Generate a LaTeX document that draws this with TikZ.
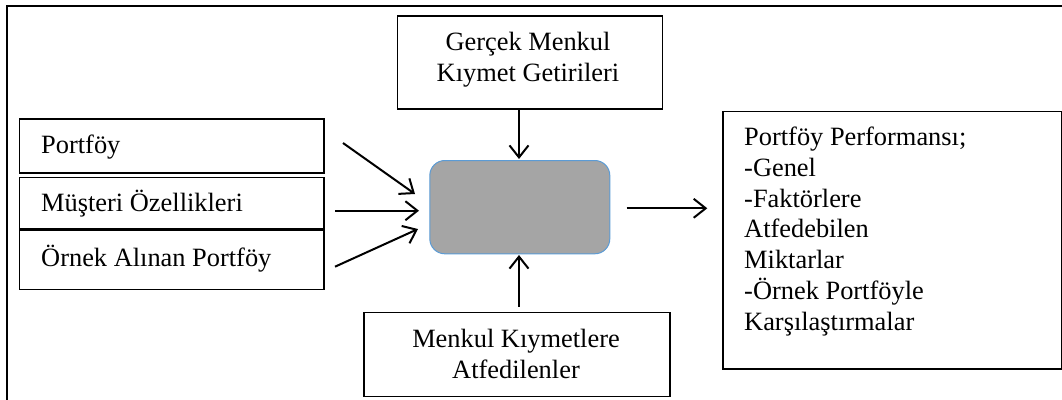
\documentclass[tikz,border=0pt]{standalone}
\usepackage{fontspec}
\setmainfont{Liberation Serif}
\usetikzlibrary{arrows.meta}
\definecolor{boxgray}{HTML}{A5A5A5}
\definecolor{boxblue}{HTML}{5B9BD5}
\begin{document}
\begin{tikzpicture}[x=1pt,y=-1pt,
  box/.style={draw, line width=1.4pt, inner sep=0pt, anchor=north west},
  txt/.style={inner sep=0pt, font=\fontsize{26.4}{30.7}\selectfont},
  arr/.style={line width=2pt, -{Straight Barb[length=12pt,width=19pt]}}]
\useasboundingbox (0,0) rectangle (1062,399);
% outer frame (cropped)
\draw[line width=1.2pt] (7,399.5) -- (7,6) -- (1062.5,6);
% boxes
\node[box, minimum width=265pt, minimum height=93pt] (gm) at (396.7,15.3) {};
\node[box, minimum width=304.3pt, minimum height=54pt] (pf) at (19,118.3) {};
\node[box, minimum width=304.3pt, minimum height=51.6pt] (mo) at (19,176.7) {};
\node[box, minimum width=304.3pt, minimum height=59pt] (op) at (19,230) {};
\node[box, minimum width=306pt, minimum height=84pt] (mk) at (363.3,311.7) {};
\node[box, minimum width=338.4pt, minimum height=257.6pt] (pp) at (722.3,110.7) {};
\node[draw=boxblue, fill=boxgray, line width=1pt, rounded corners=15pt, inner sep=0pt,
      minimum width=180pt, minimum height=93.3pt, anchor=north west] (c) at (429.3,160) {};
% texts (base anchor = baseline of the last line)
\node[txt, anchor=base, align=center] (gmt) at (528,81) {Gerçek Menkul\\Kıymet Getirileri};
\node[txt, anchor=base west] (pft) at (41,153) {Portföy};
\node[txt, anchor=base west] (mot) at (41,211.7) {Müşteri Özellikleri};
\node[txt, anchor=base west] (opt) at (41,266.7) {Örnek Alınan Portföy};
\node[txt, anchor=base, align=center] (mkt) at (516,378) {Menkul Kıymetlere\\Atfedilenler};
\node[txt, anchor=base west, align=left] (ppt) at (744,330) {Portföy Performansı;\\-Genel\\-Faktörlere\\Atfedebilen\\Miktarlar\\-Örnek Portföyle\\Karşılaştırmalar};
% connector end points
\coordinate (a1s) at (343,143);   \coordinate (a1e) at (415,194);
\coordinate (a2s) at (335,210.7); \coordinate (a2e) at (419,210.7);
\coordinate (a3s) at (335,266.7); \coordinate (a3e) at (418,229);
\coordinate (ts) at (519,110);    \coordinate (te) at (519,159);
\coordinate (bs) at (519,306.7);  \coordinate (be) at (519,255);
\coordinate (rs) at (626.7,208.3);\coordinate (re) at (707.3,208.3);
\draw[arr] (a1s) -- (a1e);
\draw[arr] (a2s) -- (a2e);
\draw[arr] (a3s) -- (a3e);
\draw[arr] (ts) -- (te);
\draw[arr] (bs) -- (be);
\draw[arr] (rs) -- (re);
\end{tikzpicture}
\end{document}
